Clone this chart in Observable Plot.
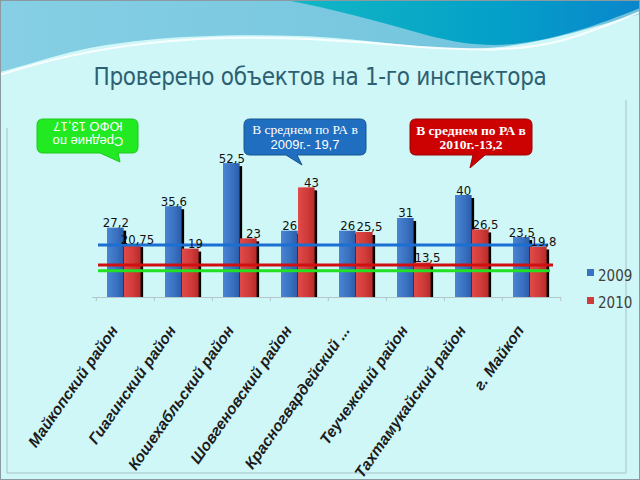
<!DOCTYPE html>
<html><head><meta charset="utf-8">
<script src="https://cdn.jsdelivr.net/npm/d3@7"></script>
<script src="https://cdn.jsdelivr.net/npm/@observablehq/plot@0.6"></script>
<style>
body{margin:0;}
#wrap{position:relative;width:640px;height:480px;overflow:hidden;background:#cff7f8;}
#bg,#chart,#over{position:absolute;left:0;top:0;}
#title{position:absolute;left:0;width:640px;top:63px;text-align:center;font:24px "Liberation Sans Narrow","DejaVu Sans Condensed",sans-serif;letter-spacing:-0.3px;color:#2d6070;}
</style></head><body>
<div id="wrap">
<svg id="bg" width="640" height="480">
  <defs>
    <linearGradient id="lb" x1="0" x2="1" y1="0" y2="0"><stop offset="0" stop-color="#86cfe4"/><stop offset="1" stop-color="#6ec2dc"/></linearGradient>
    <linearGradient id="dk" x1="0" x2="1" y1="0" y2="0"><stop offset="0" stop-color="#12b8c4"/><stop offset="0.6" stop-color="#04a0c8"/><stop offset="1" stop-color="#0a86cc"/></linearGradient>
  </defs>
  <path d="M0,0 H640 V14 C600,24 560,40 500,47 C430,53 380,39 300,36 C210,33 120,38 60,55 C35,62 15,68 0,72 Z" fill="url(#lb)"/>
  <path d="M0,75 C30,65 80,51 150,43 C240,33 330,39 420,47 C480,51 520,51 560,41 C590,33 615,22 640,12" fill="none" stroke="#ffffff" stroke-width="2" opacity="0.85"/>
  <path d="M285,0 C330,8 380,22 430,36 C470,46 500,48 540,40 C580,32 615,18 640,8 V0 Z" fill="url(#dk)"/>
  <path d="M7,128 V473 H626 V100" fill="none" stroke="#a9c2c8" stroke-width="1"/>
  <rect x="0.5" y="0.5" width="639" height="479" fill="none" stroke="#8a9aa0"/>
</svg>
<div id="title">Проверено объектов на 1-го инспектора</div>
<div id="chart"></div>
<svg id="over" width="640" height="480"></svg>
</div>
<script>
// ---- data ----
const categories = ["Майкопский район","Гиагинский район","Кошехабльский район","Шовгеновский район","Красногвардейский ...","Теучежский район","Тахтамукайский район","г. Майкоп"];
const values2009 = [27.2, 35.6, 52.5, 26, 26, 31, 40, 23.5];
const values2010 = [20.75, 19, 23, 43, 25.5, 13.5, 26.5, 19.8];
const seriesNames = ["2009", "2010"];
// average lines (levels as drawn in the picture)
const avgNames = ["РА 2009", "РА 2010", "ЮФО"];
const avgValues = [20.6, 12.7, 10.5];
const avgColors = ["#1a6fd2", "#d01010", "#22e022"];
// callouts text
const calloutBlue = ["В среднем по РА в", "2009г.- 19,7"];
const calloutRed = ["В среднем по РА в", "2010г.-13,2"];
const calloutGreen = ["Средние по", "ЮФО 13,17"];

const W = 640, H = 480, ML = 94, MR = 79, MT = 144, MB = 183;
const step = (W - ML - MR) / categories.length;
const fmt = v => String(v).replace(".", ",");

const d2009 = categories.map((c, i) => ({cat: c, value: values2009[i]}));
const d2010 = categories.map((c, i) => ({cat: c, value: values2010[i]}));

const ins = {
  a: {l: 11, r: step - 28},
  b: {l: 28, r: step - 45}
};
const labelFont = {fontFamily: "'Liberation Sans Narrow','DejaVu Sans Condensed',sans-serif", fontSize: 13, fill: "#111"};

const chart = Plot.plot({
  width: W, height: H,
  marginLeft: ML, marginRight: MR, marginTop: MT, marginBottom: MB,
  style: {background: "transparent", overflow: "visible"},
  x: {type: "band", domain: categories, padding: 0, axis: null},
  y: {domain: [0, 60], axis: null},
  marks: [
    Plot.ruleY([0], {stroke: "#b4c6ca", strokeWidth: 1, insetLeft: -2}),
    Plot.ruleX(categories, {x: d => d, y1: 0, y2: -1.6, dx: -step / 2, stroke: "#b4c6ca"}),
    Plot.ruleX([categories[categories.length - 1]], {x: d => d, y1: 0, y2: -1.6, dx: step / 2, stroke: "#b4c6ca"}),
    // 2009
    Plot.barY(d2009, {x: "cat", y: "value", fill: "#000", insetLeft: ins.a.l, insetRight: ins.a.r, dx: 2.5, insetTop: 3}),
    Plot.barY(d2009, {x: "cat", y: "value", fill: "url(#gBlue)", insetLeft: ins.a.l, insetRight: ins.a.r}),
    // 2010
    Plot.barY(d2010, {x: "cat", y: "value", fill: "#000", insetLeft: ins.b.l, insetRight: ins.b.r, dx: 2.5, insetTop: 3}),
    Plot.barY(d2010, {x: "cat", y: "value", fill: "url(#gRed)", insetLeft: ins.b.l, insetRight: ins.b.r}),
    // average lines
    Plot.ruleY([0], {y: () => avgValues[2], stroke: avgColors[2], strokeWidth: 3, insetLeft: 4, insetRight: 11}),
    Plot.ruleY([0], {y: () => avgValues[1], stroke: avgColors[1], strokeWidth: 3, insetLeft: 4, insetRight: 8}),
    Plot.ruleY([0], {y: () => avgValues[0], stroke: avgColors[0], strokeWidth: 3, insetLeft: 4, insetRight: 13}),
    // value labels
    Plot.text(d2009, {x: "cat", y: "value", text: d => fmt(d.value), dx: -9.7, dy: -1, lineAnchor: "bottom", ...labelFont}),
    Plot.text(d2010, {x: "cat", y: "value", text: d => fmt(d.value), dx: 12, dy: -1, lineAnchor: "bottom", ...labelFont}),
    // category labels
    Plot.text(categories, {x: d => d, frameAnchor: "bottom", text: d => d, rotate: -55, textAnchor: "end", lineAnchor: "middle", dx: -11, dy: 30,
      fontFamily: "'Liberation Sans',Arial,sans-serif", fontSize: 15.5, fontWeight: "bold", fontStyle: "italic", fill: "#1c1c1c"})
  ]
});
chart.insertAdjacentHTML("afterbegin", `<defs>
  <linearGradient id="gBlue" x1="0" x2="1" y1="0" y2="0"><stop offset="0" stop-color="#4a84d2"/><stop offset="0.55" stop-color="#3a72c2"/><stop offset="1" stop-color="#2b5ca8"/></linearGradient>
  <linearGradient id="gRed" x1="0" x2="1" y1="0" y2="0"><stop offset="0" stop-color="#e04a48"/><stop offset="0.55" stop-color="#d03c3a"/><stop offset="1" stop-color="#b82a28"/></linearGradient>
</defs>`);
document.getElementById("chart").appendChild(chart);

// ---- overlay: callouts + legend ----
const over = d3.select("#over");
function callout(x0, y0, x1, y1, tail, fill, stroke) {
  const r = 6;
  const [bx1, tx, ty, bx2] = tail;
  const p = `M${x0 + r},${y0} H${x1 - r} Q${x1},${y0} ${x1},${y0 + r} V${y1 - r} Q${x1},${y1} ${x1 - r},${y1}
    H${bx2} L${tx},${ty} L${bx1},${y1} H${x0 + r} Q${x0},${y1} ${x0},${y1 - r} V${y0 + r} Q${x0},${y0} ${x0 + r},${y0} Z`;
  over.append("path").attr("d", p).attr("fill", fill).attr("stroke", stroke).attr("stroke-width", 1);
}
// green (upside-down)
callout(37, 119, 138, 153, [100, 120, 162, 118], "#22ea22", "#1cc81c");
const g = over.append("g").attr("transform", "translate(88,133) rotate(180)")
  .attr("font-family", "'Liberation Sans',Arial,sans-serif").attr("font-size", 13).attr("fill", "#fff").attr("text-anchor", "middle");
calloutGreen.forEach((t, i) => g.append("text").attr("y", i === 0 ? -7.5 : 7.5).attr("dominant-baseline", "middle").text(t));
// blue
callout(244, 119, 366, 155, [286, 302, 165, 297], "#1f6ebf", "#16558f");
over.append("text").attr("x", 305).attr("y", 134).attr("text-anchor", "middle").attr("fill", "#fff")
  .attr("font-family", "'Liberation Serif',serif").attr("font-size", 13.5).text(calloutBlue[0]);
over.append("text").attr("x", 305).attr("y", 149).attr("text-anchor", "middle").attr("fill", "#fff")
  .attr("font-family", "'Liberation Sans',Arial,sans-serif").attr("font-size", 13).text(calloutBlue[1]);
// red
callout(410, 119, 532, 155, [473, 470, 168, 485], "#cc0202", "#9a0000");
over.append("text").attr("x", 471).attr("y", 135).attr("text-anchor", "middle").attr("fill", "#fff")
  .attr("font-family", "'Liberation Serif',serif").attr("font-weight", "bold").attr("font-size", 13.5).text(calloutRed[0]);
over.append("text").attr("x", 471).attr("y", 149).attr("text-anchor", "middle").attr("fill", "#fff")
  .attr("font-family", "'Liberation Serif',serif").attr("font-weight", "bold").attr("font-size", 13.5).text(calloutRed[1]);

// legend
const legFills = ["#3a72c2", "#d03c3a"];
seriesNames.forEach((s, i) => {
  over.append("rect").attr("x", 587).attr("y", 269 + i * 28).attr("width", 7).attr("height", 7).attr("fill", legFills[i]);
  over.append("text").attr("x", 598).attr("y", 281 + i * 27).attr("fill", "#404040")
    .attr("font-family", "'Liberation Sans Narrow','DejaVu Sans Condensed',sans-serif").attr("font-size", 15).text(s);
});
</script>
</body></html>
